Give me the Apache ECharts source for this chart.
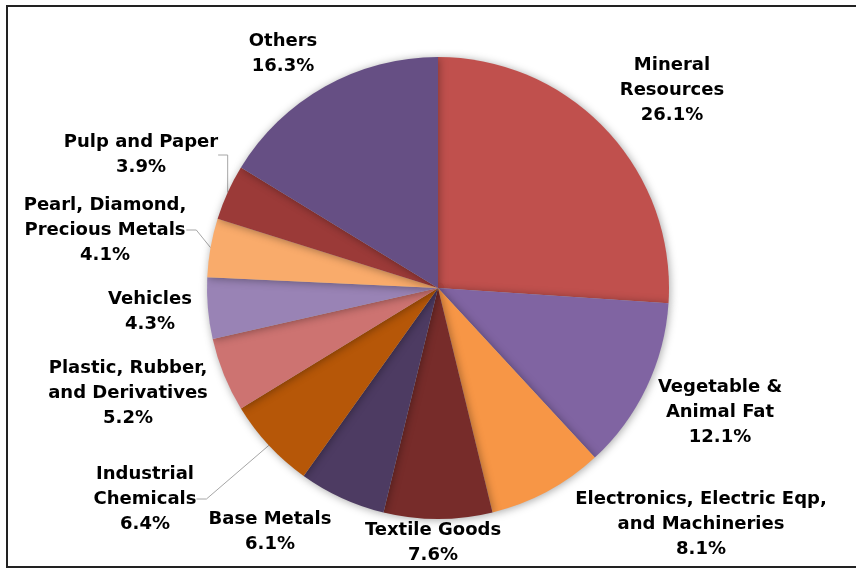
<!DOCTYPE html>
<html>
<head>
<meta charset="utf-8">
<script src="https://cdn.jsdelivr.net/npm/echarts@6/dist/echarts.min.js"></script>
<style>html,body{margin:0;padding:0;background:#fff}#c{width:856px;height:568px}</style>
</head>
<body>
<div id="c"></div>
<script>
// Data (clockwise from 12 o'clock)
const categories = [
  'Mineral\nResources',
  'Vegetable &\nAnimal Fat',
  'Electronics, Electric Eqp,\nand Machineries',
  'Textile Goods',
  'Base Metals',
  'Industrial\nChemicals',
  'Plastic, Rubber,\nand Derivatives',
  'Vehicles',
  'Pearl, Diamond,\nPrecious Metals',
  'Pulp and Paper',
  'Others'
];
const shares = [26.1, 12.1, 8.1, 7.6, 6.1, 6.4, 5.2, 4.3, 4.1, 3.9, 16.3];
const colors = ['#C0504D', '#8064A2', '#F79646', '#772C2A', '#4D3B62', '#B65708',
                '#CD7371', '#9983B5', '#F9AB6B', '#9B3A38', '#664F84'];
const leaderLines = ['Pulp and Paper', 'Pearl, Diamond,\nPrecious Metals', 'Industrial\nChemicals'];

// Label layout (label block centres)
const labelPos = [
  [672, 90], [720, 412], [701, 524], [433, 543], [270, 532], [145, 499],
  [128, 393], [150, 312], [105, 230], [141, 155], [283, 54]
];

const chart = echarts.init(document.getElementById('c'));
chart.setOption({
  animation: false,
  backgroundColor: '#fff',
  graphic: [{
    type: 'rect', shape: {x: 7, y: 6, width: 870, height: 561},
    style: {fill: 'none', stroke: '#222', lineWidth: 2}, z: 100
  }],
  series: [{
    type: 'pie',
    center: [438, 288],
    radius: 231,
    startAngle: 90,
    clockwise: true,
    avoidLabelOverlap: false,
    itemStyle: {shadowBlur: 8, shadowColor: 'rgba(0,0,0,0.35)', shadowOffsetX: 1, shadowOffsetY: 1},
    label: {
      show: true,
      position: 'outside',
      fontFamily: 'DejaVu Sans',
      fontWeight: 'bold',
      fontSize: 18,
      lineHeight: 25,
      color: '#000',
      align: 'center',
      formatter: p => p.name + '\n' + p.value.toFixed(1) + '%'
    },
    labelLine: {show: false, lineStyle: {color: '#A6A6A6', width: 1}},
    labelLayout: p => ({
      x: labelPos[p.dataIndex][0],
      y: labelPos[p.dataIndex][1],
      align: 'center',
      verticalAlign: 'middle'
    }),
    data: categories.map((c, i) => ({
      name: c,
      value: shares[i],
      itemStyle: {color: colors[i]},
      labelLine: {show: leaderLines.includes(c), length: 10, length2: 10}
    }))
  }]
});
</script>
</body>
</html>
